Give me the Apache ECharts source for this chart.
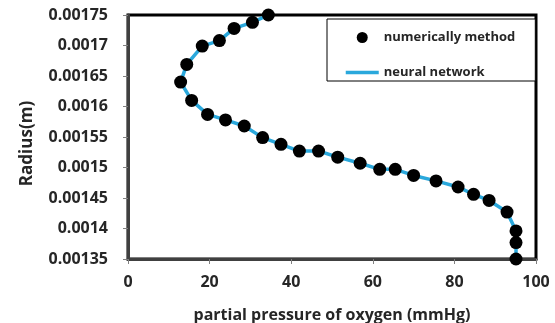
<!DOCTYPE html>
<html><head><meta charset="utf-8">
<script src="https://cdn.jsdelivr.net/npm/echarts@6/dist/echarts.min.js"></script>
<style>html,body{margin:0;padding:0;background:#fff}#c{width:555px;height:323px}</style>
</head><body><div id="c"></div>
<script>
// Partial pressure of oxygen (mmHg) for the numerical method points
const pressure = [34.4, 30.5, 26.0, 22.4, 18.2, 14.4, 12.9, 15.6, 19.5, 23.9, 28.5, 33.0, 37.5, 42.0, 46.7, 51.4, 56.9, 61.7, 65.5, 70.0, 75.5, 80.9, 84.7, 88.5, 92.9, 95.1, 95.1, 95.1];
// Radius (m)
const radius = [0.00175, 0.001738, 0.001728, 0.001708, 0.001699, 0.001669, 0.00164, 0.00161, 0.001587, 0.001578, 0.001568, 0.001549, 0.001538, 0.001527, 0.001527, 0.001517, 0.001507, 0.001497, 0.001497, 0.001487, 0.001478, 0.001468, 0.001456, 0.001446, 0.001427, 0.001396, 0.001377, 0.00135];
// Neural network curve (follows the same points)
const nnPressure = [34.4, 30.5, 26.0, 22.4, 18.2, 14.4, 12.9, 15.6, 19.5, 23.9, 28.5, 33.0, 37.5, 42.0, 46.7, 51.4, 56.9, 61.7, 65.5, 70.0, 75.5, 80.9, 84.7, 88.5, 92.9, 95.1, 95.1, 95.1];
const nnRadius = [0.00175, 0.001738, 0.001728, 0.001708, 0.001699, 0.001669, 0.00164, 0.00161, 0.001587, 0.001578, 0.001568, 0.001549, 0.001538, 0.001527, 0.001527, 0.001517, 0.001507, 0.001497, 0.001497, 0.001487, 0.001478, 0.001468, 0.001456, 0.001446, 0.001427, 0.001396, 0.001377, 0.00135];
const yTickLabels = ['0.00135','0.0014','0.00145','0.0015','0.00155','0.0016','0.00165','0.0017','0.00175'];
const xTickLabels = ['0','20','40','60','80','100'];
const seriesNames = ['numerically method', 'neural network'];

const pts = pressure.map((p, i) => [p, radius[i]]);
const nn = nnPressure.map((p, i) => [p, nnRadius[i]]);
const FONT = 'Open Sans';
const TXT = '#262626';

const chart = echarts.init(document.getElementById('c'), null, {renderer: 'canvas'});
chart.setOption({
  animation: false,
  backgroundColor: '#fff',
  grid: {left: 128, right: 19, top: 15, bottom: 64, outerBoundsMode: 'none', containLabel: false,
    show: true, borderColor: '#000', borderWidth: 3, backgroundColor: 'transparent'},
  legend: {
    orient: 'vertical', left: 327, top: 19,
    padding: [12, 20, 2, 17], itemGap: 22, itemWidth: 33, itemHeight: 11,
    borderColor: '#000', borderWidth: 1, backgroundColor: '#fff',
    textStyle: {fontFamily: FONT, fontWeight: 'bold', fontSize: 13, color: TXT},
    data: [
      {name: seriesNames[0], icon: 'circle', itemStyle: {color: '#000', opacity: 1}},
      {name: seriesNames[1], itemStyle: {opacity: 0}, lineStyle: {color: '#2aa8dc', width: 3.5}}
    ]
  },
  xAxis: {
    type: 'value', min: 0, max: 100, interval: 20,
    name: 'partial pressure of oxygen (mmHg)', nameLocation: 'middle', nameGap: 48,
    nameTextStyle: {fontFamily: FONT, fontWeight: 'bold', fontSize: 16, color: TXT},
    axisLine: {show: true, onZero: false, lineStyle: {color: '#404040', width: 3}},
    axisTick: {show: true, inside: false, length: 5, lineStyle: {color: '#808080'}},
    axisLabel: {margin: 15, fontFamily: FONT, fontWeight: 'bold', fontSize: 16, color: TXT,
      formatter: (v) => xTickLabels[Math.round(v / 20)]},
    splitLine: {show: false}
  },
  yAxis: {
    type: 'value', min: 0.00135, max: 0.00175, interval: 0.00005,
    name: 'Radius(m)', nameLocation: 'middle', nameGap: 92, nameRotate: 90,
    nameTextStyle: {fontFamily: FONT, fontWeight: 'bold', fontSize: 17, color: TXT, padding: [0, 13, 0, 0]},
    axisLine: {show: true, onZero: false, lineStyle: {color: '#404040', width: 3}},
    axisTick: {show: true, inside: false, length: 5, lineStyle: {color: '#808080'}},
    axisLabel: {margin: 20, fontFamily: FONT, fontWeight: 'bold', fontSize: 16, color: TXT,
      formatter: (v) => yTickLabels[Math.round((v - 0.00135) / 0.00005)]},
    splitLine: {show: false}
  },
  series: [
    {name: seriesNames[1], type: 'line', data: nn, showSymbol: false, symbol: 'none', z: 2,
     lineStyle: {color: '#2aa8dc', width: 3.5}, itemStyle: {color: '#2aa8dc'}},
    {name: seriesNames[0], type: 'scatter', data: pts, symbol: 'circle', symbolSize: 13, z: 3,
     itemStyle: {color: '#000', opacity: 1}}
  ]
});
</script></body></html>
